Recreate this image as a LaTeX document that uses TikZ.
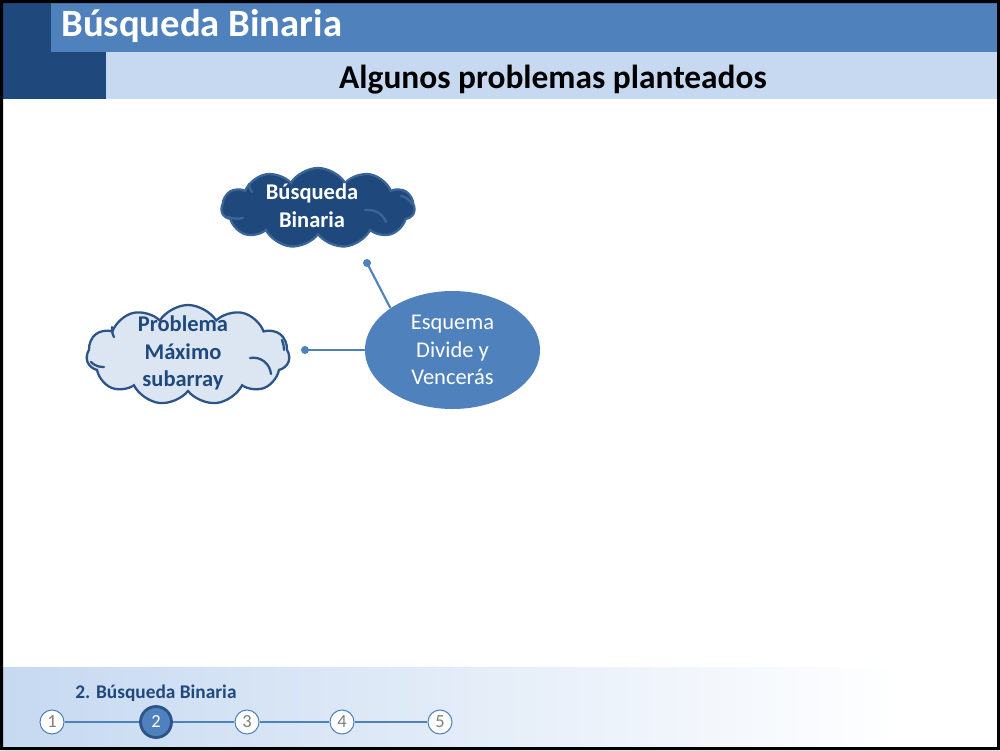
\documentclass[tikz,border=0pt]{standalone}
\usepackage{fontspec}
\setmainfont{Carlito}
\usetikzlibrary{shapes.geometric,shapes.symbols}
\definecolor{navy}{HTML}{1F497D}
\definecolor{medblue}{HTML}{4F81BD}
\definecolor{lightblue}{HTML}{C6D9F1}
\definecolor{cloudlight}{HTML}{DCE6F2}
\definecolor{outl}{HTML}{2C5487}
\definecolor{outlb}{HTML}{3B6499}
\definecolor{numgray}{HTML}{7F7F7F}
\tikzset{
  cloudbox/.style={cloud, cloud puffs=11, cloud puff arc=115, aspect=2.4, inner sep=0pt, line width=1.3pt},
  cloudtext/.style={align=center, inner sep=0pt, font=\bfseries\fontsize{12.8}{15.8}\selectfont},
  innerarc/.style={line width=1.3pt, line cap=round},
  conn/.style={draw=medblue, line width=1.2pt},
  dot/.style={circle, fill=medblue, inner sep=0pt, minimum size=1.6mm},
  step circ/.style={circle, draw=medblue, fill=white, line width=0.6pt, minimum size=4.8mm, inner sep=0pt, text=numgray, font=\fontsize{10.5}{10.5}\selectfont},
  step active/.style={circle, draw=outl, fill=medblue, line width=1.6pt, minimum size=6.2mm, inner sep=0pt, text=white, font=\fontsize{10.5}{10.5}\selectfont},
  stepline/.style={draw=medblue, line width=0.6pt}
}
\begin{document}
\begin{tikzpicture}[x=0.2mm,y=-0.2mm]
\useasboundingbox (0,0) rectangle (1000,750);
\fill[white] (0,0) rectangle (1000,750);
% header
\fill[navy] (3,3) rectangle (106,99);
\fill[medblue] (51,3) rectangle (997,52);
\fill[lightblue] (106,52) rectangle (997,99);
\node[anchor=base west, text=white, inner sep=0pt, font=\bfseries\fontsize{22}{22}\selectfont] (title) at (61,37) {Búsqueda Binaria};
\node[anchor=base, text=black, inner sep=0pt, font=\bfseries\fontsize{19}{19}\selectfont] (subtitle) at (553,88) {Algunos problemas planteados};
% footer gradient
\shade[left color=lightblue, right color=white] (3,667) rectangle (900,747);
\node[anchor=base west, text=navy, inner sep=0pt, font=\bfseries\fontsize{11}{11}\selectfont] (sect) at (75,698) {2. Búsqueda Binaria};
\node[step circ] (s1) at (52,722) {1};
\node[step active] (s2) at (156,722) {2};
\node[step circ] (s3) at (247,722) {3};
\node[step circ] (s4) at (342,722) {4};
\node[step circ] (s5) at (440,722) {5};
\draw[stepline] (s1) -- (s2);
\draw[stepline] (s2) -- (s3);
\draw[stepline] (s3) -- (s4);
\draw[stepline] (s4) -- (s5);
% main diagram
\node[ellipse, fill=medblue, minimum width=35mm, minimum height=23.6mm, inner sep=0pt, text=white, align=center, font=\fontsize{12.8}{15.8}\selectfont] (esq) at (452.5,350) {Esquema\\Divide y\\Vencerás};
% cloud 1
\node[cloudbox, fill=navy, draw=outlb, minimum width=38.6mm, minimum height=16mm] (bb) at (318,208) {};
\draw[innerarc, outlb] (365,210) .. controls (375,209) and (383,214) .. (386,222);
\draw[innerarc, outlb] (401,196) .. controls (406,197) and (410,200) .. (412,204);
\draw[innerarc, outlb] (228,217) .. controls (233,219) and (238,219) .. (243,218);
\draw[innerarc, outlb] (249,184) .. controls (249,187) and (250,190) .. (252,192);
\node[cloudtext, text=white] (bbt) at (312,206) {Búsqueda\\Binaria};
% cloud 2
\node[cloudbox, fill=cloudlight, draw=outl, minimum width=40.6mm, minimum height=20mm] (pm) at (188,355) {};
\draw[innerarc, outl] (250,358) .. controls (261,356) and (270,364) .. (271,374);
\draw[innerarc, outl] (91,362) .. controls (95,366) and (99,367) .. (104,367);
\draw[innerarc, outl] (282,340) .. controls (283,343) and (284,346) .. (284,350);
\draw[innerarc, outl] (112,327) .. controls (112,330) and (112,334) .. (114,337);
\node[cloudtext, text=navy] (pmt) at (183,353) {Problema\\Máximo\\subarray};
% connectors
\node[dot] (d1) at (367,263) {};
\node[dot] (d2) at (305,350) {};
\draw[conn] (d1.center) -- (esq.north west);
\draw[conn] (d2.center) -- (esq.west);
% frame
\fill[black, even odd rule] (0,0) rectangle (1000,750) (3,3) rectangle (997,747);
\end{tikzpicture}
\end{document}
